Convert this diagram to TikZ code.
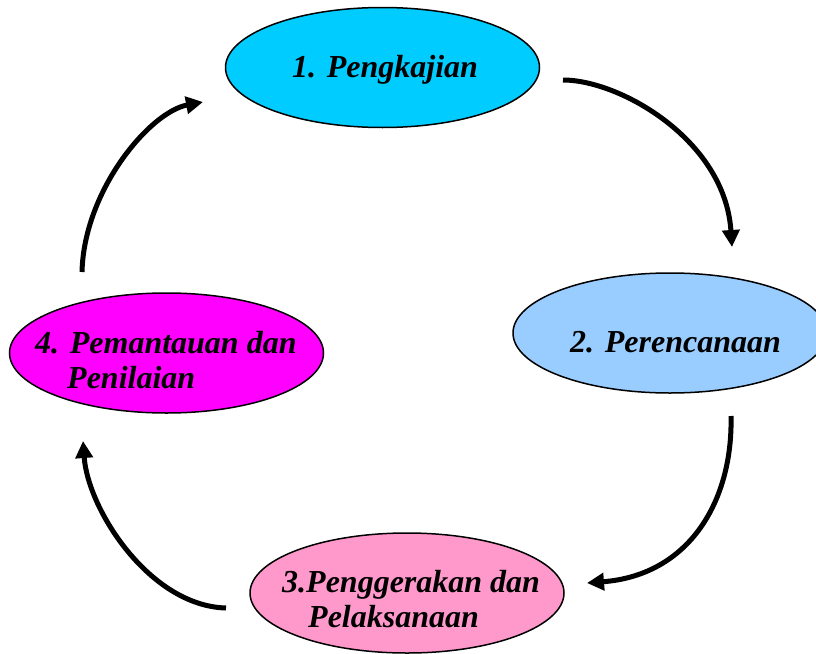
\documentclass[tikz,border=0pt]{standalone}
\usepackage{fontspec}
\setmainfont{Liberation Serif}
\usetikzlibrary{shapes.geometric,arrows.meta}
\definecolor{cCyan}{HTML}{00CCFF}
\definecolor{cLBlue}{HTML}{99CCFF}
\definecolor{cPink}{HTML}{FF99CC}
\definecolor{cMag}{HTML}{FF00FF}
\tikzset{
  blob/.style={ellipse,draw=black,line width=1.5pt,minimum width=314pt,minimum height=120pt,inner sep=0pt},
  lbl/.style={anchor=base west,inner sep=0pt,font=\fontsize{32}{35}\selectfont\bfseries\itshape},
  cyc/.style={line width=5pt,-{Triangle[length=17pt,width=17pt]}}
}
\begin{document}
\begin{tikzpicture}[x=1pt,y=-1pt]
\useasboundingbox (0,0) rectangle (816,653);
\node[blob,fill=cCyan] (e1) at (382.5,67.5) {};
\node[blob,fill=cLBlue] (e2) at (670,333) {};
\node[blob,fill=cPink] (e3) at (407,593) {};
\node[blob,fill=cMag] (e4) at (166.5,353) {};
\node[lbl] (t1) at (292,77) {1. Pengkajian};
\node[lbl] (t2) at (570,352) {2. Perencanaan};
\node[lbl] (t3a) at (282,592) {3.Penggerakan dan};
\node[lbl] (t3b) at (308,627) {Pelaksanaan};
\node[lbl] (t4a) at (35,353) {4. Pemantauan dan};
\node[lbl] (t4b) at (67,388) {Penilaian};
\coordinate (a1s) at (563,80);
\coordinate (a1e) at (732,247);
\coordinate (a2s) at (731,416);
\coordinate (a2e) at (587,583);
\coordinate (a3s) at (226,608);
\coordinate (a3e) at (83,441);
\coordinate (a4s) at (82,272);
\coordinate (a4e) at (203,102);
\draw[cyc] (a1s) .. controls (620,80) and (725,140) .. (a1e);
\draw[cyc] (a2s) .. controls (733,500) and (690,575) .. (a2e);
\draw[cyc] (a3s) .. controls (150,606) and (88,510) .. (a3e);
\draw[cyc] (a4s) .. controls (84,190) and (150,112) .. (a4e);
\end{tikzpicture}
\end{document}
